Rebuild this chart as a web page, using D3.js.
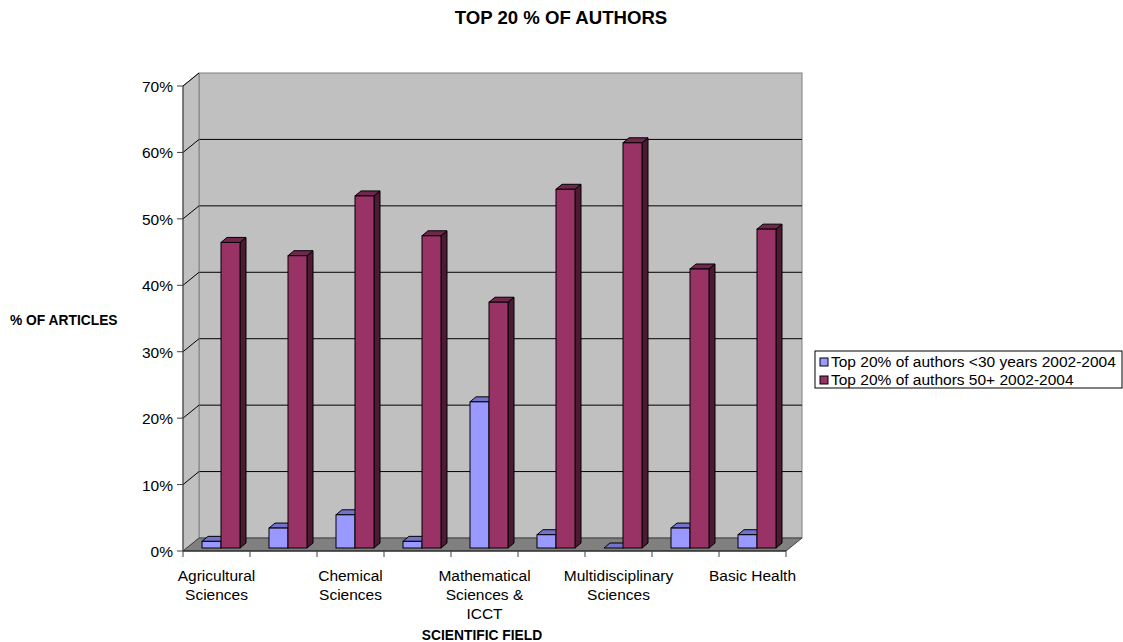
<!DOCTYPE html>
<html>
<head>
<meta charset="utf-8">
<script src="https://d3js.org/d3.v7.min.js"></script>
<style>
  body { margin: 0; background: #fff; }
  text { font-family: "Liberation Sans", Arial, sans-serif; fill: #000; }
</style>
</head>
<body>
<script>
// categories (only every other one is labelled in the original)
const categories = ["Agricultural Sciences", "Biological Sciences", "Chemical Sciences",
  "Engineering", "Mathematical Sciences & ICCT", "Medical Sciences",
  "Multidisciplinary Sciences", "Physics", "Basic Health"];
const shownLabels = [["Agricultural", "Sciences"], null, ["Chemical", "Sciences"], null,
  ["Mathematical", "Sciences &", "ICCT"], null, ["Multidisciplinary", "Sciences"], null, ["Basic Health"]];
const seriesNames = ["Top 20% of authors <30 years 2002-2004", "Top 20% of authors 50+ 2002-2004"];
const under30 = [1, 3, 5, 1, 22, 2, 0, 3, 2];
const over50 = [46, 44, 53, 47, 37, 54, 61, 42, 48];
const yTicks = [0, 10, 20, 30, 40, 50, 60, 70];

const W = 1123, H = 642;
const svg = d3.select("body").append("svg").attr("width", W).attr("height", H);

const x0 = 183, x1 = 786, yBot = 551, yTop = 86;
const depthX = 16, depthY = -13;   // wall depth
const barDX = 6, barDY = -5;       // bar depth
const offX = 4, offY = -3;         // bar plane position inside the box
const fs = 15.5;

const x = d3.scaleBand().domain(categories).range([x0, x1]);
const xs = d3.scaleBand().domain([0, 1]).range([15, 53]);
const y = d3.scaleLinear().domain([0, 70]).range([yBot, yTop]);

const colors = [
  { front: "#9999ff", top: "#7373cc", side: "#4d4d80" },
  { front: "#993366", top: "#73264d", side: "#4d1a33" }
];

// back wall
svg.append("rect")
  .attr("x", x0 + depthX).attr("y", yTop + depthY)
  .attr("width", x1 - x0).attr("height", yBot - yTop)
  .attr("fill", "#c0c0c0").attr("stroke", "#808080");

// gridlines on back wall
svg.selectAll(".grid").data(yTicks.slice(1, -1)).join("line")
  .attr("x1", x0 + depthX).attr("x2", x1 + depthX)
  .attr("y1", d => y(d) + depthY).attr("y2", d => y(d) + depthY)
  .attr("stroke", "#000").attr("stroke-width", 1);

// side wall
svg.append("polygon")
  .attr("points", [[x0, yTop], [x0 + depthX, yTop + depthY], [x0 + depthX, yBot + depthY], [x0, yBot]].join(" "))
  .attr("fill", "#c0c0c0").attr("stroke", "#808080");
svg.selectAll(".diag").data(yTicks.slice(1)).join("line")
  .attr("x1", x0).attr("y1", d => y(d))
  .attr("x2", x0 + depthX).attr("y2", d => y(d) + depthY)
  .attr("stroke", "#000");

// floor
svg.append("polygon")
  .attr("points", [[x0, yBot], [x1, yBot], [x1 + depthX, yBot + depthY], [x0 + depthX, yBot + depthY]].join(" "))
  .attr("fill", "#808080").attr("stroke", "#404040");

// bars
const series = [under30, over50];
categories.forEach((c, i) => {
  series.forEach((vals, s) => {
    const v = vals[i];
    const bx = x(c) + xs(s) + offX, bw = xs.bandwidth();
    const by0 = y(0) + offY, by1 = y(v) + offY;
    const g = svg.append("g");
    const col = colors[s];
    g.append("polygon")
      .attr("points", [[bx + bw, by1], [bx + bw + barDX, by1 + barDY], [bx + bw + barDX, by0 + barDY], [bx + bw, by0]].join(" "))
      .attr("fill", col.side).attr("stroke", "#000");
    g.append("polygon")
      .attr("points", [[bx, by1], [bx + barDX, by1 + barDY], [bx + bw + barDX, by1 + barDY], [bx + bw, by1]].join(" "))
      .attr("fill", col.top).attr("stroke", "#000");
    g.append("rect")
      .attr("x", bx).attr("y", by1).attr("width", bw).attr("height", by0 - by1)
      .attr("fill", col.front).attr("stroke", "#000");
  });
});

// y axis
svg.append("line").attr("x1", x0).attr("x2", x0).attr("y1", yTop).attr("y2", yBot)
  .attr("stroke", "#404040");
svg.selectAll(".ytick").data(yTicks).join("line")
  .attr("x1", x0 - 6).attr("x2", x0).attr("y1", d => y(d)).attr("y2", d => y(d))
  .attr("stroke", "#404040");
svg.selectAll(".ylab").data(yTicks).join("text")
  .attr("x", x0 - 10).attr("y", d => y(d) + 6)
  .attr("text-anchor", "end").attr("font-size", fs)
  .text(d => d + "%");

// x axis
svg.append("line").attr("x1", x0).attr("x2", x1).attr("y1", yBot).attr("y2", yBot)
  .attr("stroke", "#202020");
svg.selectAll(".xtick").data(d3.range(categories.length + 1)).join("line")
  .attr("x1", d => x0 + d * x.step()).attr("x2", d => x0 + d * x.step())
  .attr("y1", yBot).attr("y2", yBot + 6)
  .attr("stroke", "#404040");
categories.forEach((c, i) => {
  const lines = shownLabels[i];
  if (!lines) return;
  const cx = x(c) + x.bandwidth() / 2;
  const t = svg.append("text")
    .attr("x", cx).attr("y", 581)
    .attr("text-anchor", "middle").attr("font-size", fs);
  lines.forEach((l, k) => t.append("tspan")
    .attr("x", cx).attr("dy", k ? 19 : 0).text(l));
});

// titles
svg.append("text").attr("x", 561).attr("y", 24).attr("text-anchor", "middle")
  .attr("font-size", 18.6).attr("font-weight", "bold").text("TOP 20 % OF AUTHORS");
svg.append("text").attr("x", 10).attr("y", 325)
  .attr("font-size", 13.8).attr("font-weight", "bold").text("% OF ARTICLES");
svg.append("text").attr("x", 482).attr("y", 640).attr("text-anchor", "middle")
  .attr("font-size", 13.8).attr("font-weight", "bold").text("SCIENTIFIC FIELD");

// legend
const lg = svg.append("g").attr("transform", "translate(815,351)");
lg.append("rect").attr("width", 307).attr("height", 37).attr("fill", "#fff").attr("stroke", "#000");
seriesNames.forEach((n, i) => {
  lg.append("rect").attr("x", 5).attr("y", 7 + i * 18).attr("width", 8).attr("height", 8)
    .attr("fill", colors[i].front).attr("stroke", "#000");
  lg.append("text").attr("x", 16).attr("y", 16 + i * 18).attr("font-size", fs).text(n);
});
</script>
</body>
</html>
